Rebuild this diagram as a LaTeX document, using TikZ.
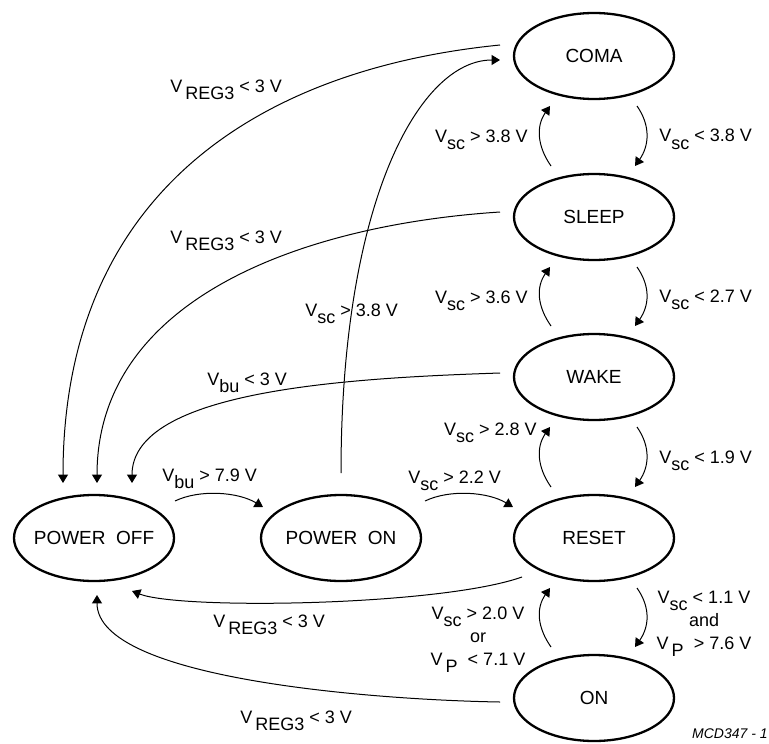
\documentclass[tikz,border=0pt]{standalone}
\usepackage{fontspec}
\setmainfont{Liberation Sans}
\usetikzlibrary{arrows.meta,shapes.geometric,calc}

\newcommand{\lsub}[1]{\raisebox{-3.5pt}{#1}}

\tikzset{
  state/.style={ellipse, draw, line width=1.15pt, minimum width=80pt, minimum height=43pt,
    inner sep=0pt, inner xsep=-8pt, font=\fontsize{9.5}{11}\selectfont},
  link/.style={->, line width=0.5pt},
  cond/.style={inner sep=0pt, font=\fontsize{9}{11.5}\selectfont},
}

\begin{document}
\begin{tikzpicture}[x=0.5pt, y=-0.5pt, >={Triangle[length=4.2pt,width=5pt]}]
\useasboundingbox (0,0) rectangle (769,743);
% states
\node[state] (COMA)  at (594,56)  {COMA};
\node[state] (SLEEP) at (594,217) {SLEEP};
\node[state] (WAKE)  at (594,377) {WAKE};
\node[state] (RESET) at (594,538) {RESET};
\node[state] (ON)    at (594,698) {ON};
\node[state] (POFF)  at (94,538)  {POWER\ \ OFF};
\node[state] (PON)   at (341,538) {POWER\ \ ON};

% back to power off
\draw[link] ($(COMA)+(-94,-11)$) .. controls +(-250,25) and +(0,-283) .. ($(POFF)+(-31,-55)$);
\draw[link] ($(SLEEP)+(-94,-5)$) .. controls +(-200,13) and +(0,-183) .. ($(POFF)+(3,-55)$);
\draw[link] ($(WAKE)+(-94,-4)$) .. controls +(-150,5) and +(0,-93) .. ($(POFF)+(38,-55)$);
\draw[link] ($(RESET)+(-72,39)$) .. controls +(-82,29) and +(48,19) .. ($(POFF)+(38,53)$);
\draw[link] ($(ON)+(-94,4)$) .. controls +(-120,-2) and +(0,85) .. ($(POFF)+(3,57)$);

% power up
\draw[link] ($(POFF)+(81,-37)$) .. controls +(25,-12) and +(-25,-15) .. ($(PON)+(-78,-31)$);
\draw[link] ($(PON)+(84,-37)$) .. controls +(25,-12) and +(-25,-15) .. ($(RESET)+(-81,-31)$);
\draw[link] ($(PON)+(0,-65)$) .. controls +(0,-273) and +(-80,0) .. ($(COMA)+(-94,4)$);

% up and down the column
\foreach \hi/\lo in {COMA/SLEEP, SLEEP/WAKE, WAKE/RESET, RESET/ON} {
  \draw[link] ($(\lo)+(-43,-51)$) .. controls +(-14,-20) and +(-14,20) .. ($(\hi)+(-44,50)$);
  \draw[link] ($(\hi)+(43,50)$) .. controls +(14,20) and +(14,-20) .. ($(\lo)+(41,-51)$);
}

% conditions
\node[cond, anchor=base west] (cComaOff)  at (170,93)  {V\,\lsub{REG3} < 3 V};
\node[cond, anchor=base west] (cSleepOff) at (170,243) {V\,\lsub{REG3} < 3 V};
\node[cond, anchor=base west] (cWakeOff)  at (207,385) {V\lsub{bu} < 3 V};
\node[cond, anchor=base west] (cPonComa)  at (305,316) {V\lsub{sc} > 3.8 V};
\node[cond, anchor=base west] (cPoffPon)  at (162,481) {V\lsub{bu} > 7.9 V};
\node[cond, anchor=base west] (cPonReset) at (408,483) {V\lsub{sc} > 2.2 V};
\node[cond, anchor=base west] (cResetOff) at (213,627) {V\,\lsub{REG3} < 3 V};
\node[cond, anchor=base west] (cOnOff)    at (240,723) {V\,\lsub{REG3} < 3 V};
\node[cond, anchor=base east] (cSleepComa)  at (528,143) {V\lsub{sc} > 3.8 V};
\node[cond, anchor=base west] (cComaSleep)  at (659,142) {V\lsub{sc} < 3.8 V};
\node[cond, anchor=base east] (cWakeSleep)  at (528,303) {V\lsub{sc} > 3.6 V};
\node[cond, anchor=base west] (cSleepWake)  at (659,302) {V\lsub{sc} < 2.7 V};
\node[cond, anchor=base east] (cResetWake)  at (537,435) {V\lsub{sc} > 2.8 V};
\node[cond, anchor=base west] (cWakeReset)  at (659,463) {V\lsub{sc} < 1.9 V};
\node[cond, anchor=north, align=center] (cOnReset) at (478,607)
  {V\lsub{sc} > 2.0 V\\or\\V\,\lsub{P}\ \ < 7.1 V};
\node[cond, anchor=north, align=center] (cResetOn) at (704,591)
  {V\lsub{sc} < 1.1 V\\and\\V\,\lsub{P}\ \ > 7.6 V};

\node[anchor=base east, inner sep=0pt, font=\fontsize{7}{8}\selectfont\itshape] (code) at (768,738) {MCD347 - 1};
\end{tikzpicture}
\end{document}
